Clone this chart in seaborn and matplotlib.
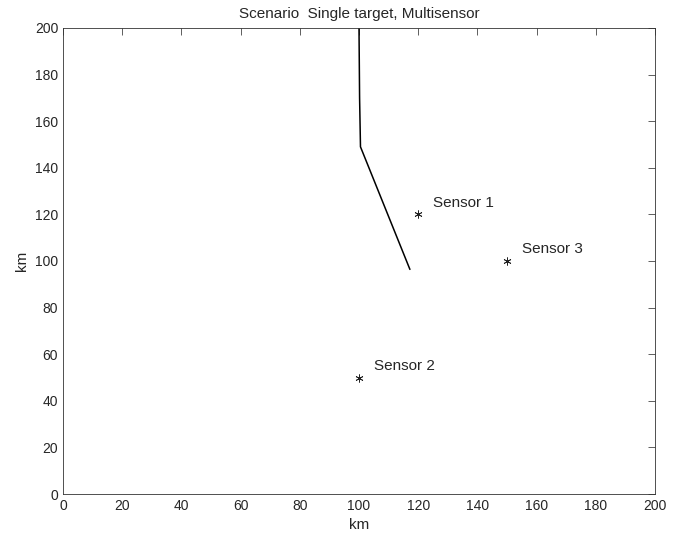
import matplotlib
matplotlib.use("Agg")
import matplotlib.pyplot as plt
import seaborn as sns
import pandas as pd

# Data
traj_x = [100.0, 100.2, 100.5, 117.2]
traj_y = [200.0, 170.0, 149.0, 96.4]
sensor_names = ["Sensor 1", "Sensor 2", "Sensor 3"]
sensor_x = [120, 100, 150]
sensor_y = [120, 50, 100]
ticks = list(range(0, 201, 20))

sns.set_style("white")
plt.rcParams['font.family'] = ['Liberation Sans', 'DejaVu Sans']
plt.rcParams['xtick.direction'] = 'in'
plt.rcParams['ytick.direction'] = 'in'

fig = plt.figure(figsize=(6.9, 5.38), dpi=100)
ax = fig.add_axes([63/690, 44/538, 592/690, 466/538])

traj = pd.DataFrame({"x": traj_x, "y": traj_y})
sns.lineplot(data=traj, x="x", y="y", sort=False, estimator=None, color="black", linewidth=1.1, ax=ax)

sens = pd.DataFrame({"x": sensor_x, "y": sensor_y, "name": sensor_names})
sns.scatterplot(data=sens, x="x", y="y", marker=(6, 2, 0), s=28, color="#222222", linewidth=0.6, ax=ax)
for n, x, y in zip(sensor_names, sensor_x, sensor_y):
    ax.text(x + 5, y + 5, n, fontsize=11, ha="left", va="center")

ax.set_xlim(0, 200)
ax.set_ylim(0, 200)
ax.set_xticks(ticks)
ax.set_yticks(ticks)
ax.tick_params(top=True, right=True, length=5, width=0.6, labelsize=10, color="#444444")
for s in ax.spines.values():
    s.set_linewidth(0.6)
    s.set_color("#333333")
ax.set_xlabel("km", fontsize=11)
ax.set_ylabel("km", fontsize=11)
ax.set_title("Scenario  Single target, Multisensor", fontsize=11, pad=7)

fig.savefig("out.png", dpi=100)
